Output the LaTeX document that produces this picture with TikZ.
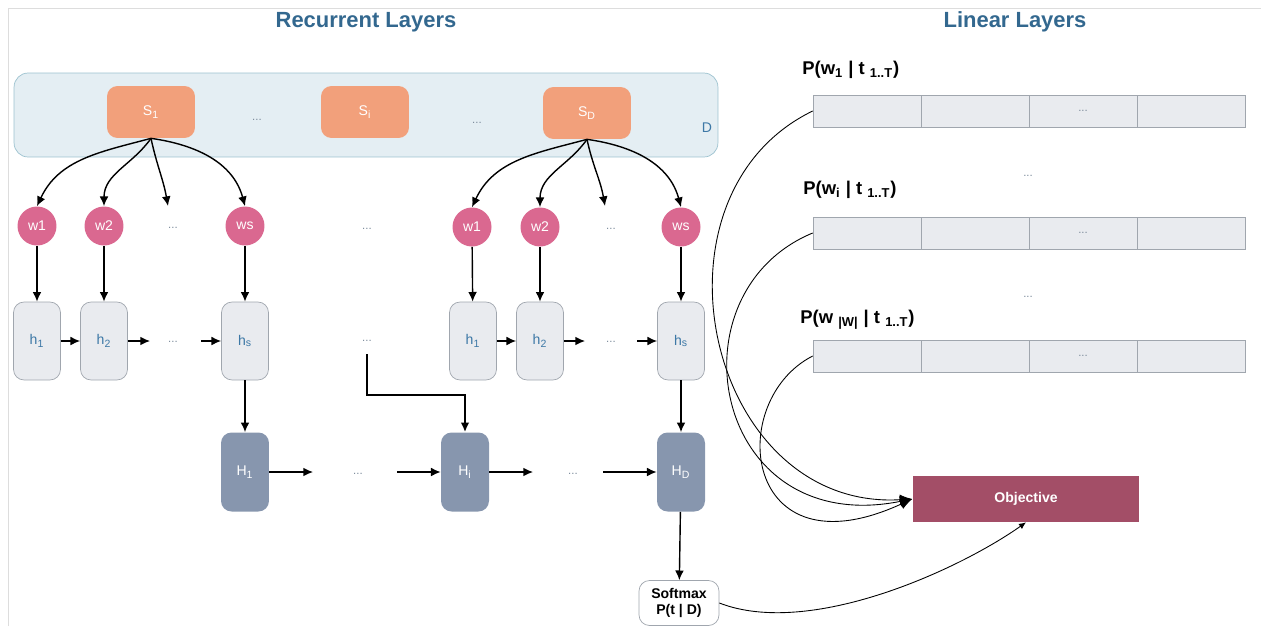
\documentclass[tikz,border=0pt]{standalone}
\usepackage{fontspec}
\setmainfont{Liberation Sans}
\usepackage{xcolor}
\definecolor{titleblue}{HTML}{33688F}
\definecolor{docfill}{HTML}{E4EEF3}
\definecolor{docline}{HTML}{9CC2CF}
\definecolor{sentfill}{HTML}{F2A07B}
\definecolor{wordfill}{HTML}{DA6890}
\definecolor{cellfill}{HTML}{E9EBEF}
\definecolor{cellline}{HTML}{A0A6AE}
\definecolor{hidfill}{HTML}{8796AE}
\definecolor{objfill}{HTML}{A34E67}
\definecolor{dotgray}{HTML}{7D8C9C}
\definecolor{hblue}{HTML}{3D78A6}
\definecolor{framegray}{HTML}{DDDDDD}
\usetikzlibrary{arrows.meta}
\usetikzlibrary{positioning}
\usetikzlibrary{calc}

\tikzset{
  title/.style={text=titleblue, inner sep=0pt, font=\fontsize{12.5}{15}\selectfont\bfseries},
  docbox/.style={rectangle, rounded corners=8pt, draw=docline, fill=docfill, minimum width=14.08cm, minimum height=1.68cm},
  doclabel/.style={text=hblue, inner sep=0pt, font=\fontsize{8}{9}\selectfont},
  sent/.style={rectangle, rounded corners=6pt, fill=sentfill, text=white, minimum width=1.76cm, minimum height=1.04cm, font=\fontsize{8}{9}\selectfont},
  word/.style={circle, fill=wordfill, text=white, minimum size=0.78cm, inner sep=0pt, font=\fontsize{8}{9}\selectfont},
  lowh/.style={rectangle, rounded corners=6pt, draw=cellline, fill=cellfill, text=hblue, minimum width=0.94cm, minimum height=1.56cm, font=\fontsize{8}{9}\selectfont},
  highh/.style={rectangle, rounded corners=6pt, fill=hidfill, text=white, minimum width=0.96cm, minimum height=1.58cm, font=\fontsize{8}{9}\selectfont},
  softbox/.style={rectangle, rounded corners=6pt, draw=cellline, fill=white, align=center, minimum width=1.6cm, minimum height=0.9cm, inner sep=1pt, font=\fontsize{8}{9.5}\selectfont\bfseries},
  objbox/.style={rectangle, fill=objfill, text=white, minimum width=4.54cm, minimum height=0.92cm, font=\fontsize{8}{9}\selectfont\bfseries},
  cell/.style={rectangle, draw=cellline, fill=cellfill, text=dotgray, minimum width=2.16cm, minimum height=0.64cm, inner sep=0pt, font=\fontsize{6.5}{7}\selectfont},
  plabel/.style={anchor=west, inner sep=0pt, font=\fontsize{10.5}{12}\selectfont\bfseries},
  dots/.style={text=dotgray, inner sep=1pt, font=\fontsize{6.5}{7}\selectfont},
  arr/.style={->, line width=0.8pt},
  bigarr/.style={->, line width=1.7pt},
  objarr/.style={->, line width=0.5pt, >={Latex[length=7pt,width=6pt]}}
}

\begin{document}
\begin{tikzpicture}[x=0.02cm, y=0.02cm, >={Latex[length=5.5pt,width=5pt]}]
\useasboundingbox (0,0) rectangle (1261,-626);

% frame
\draw[framegray] (8,-626) -- (8,-8) -- (1261,-8);

% titles
\node[title] (rectitle) at (366,-22) {Recurrent Layers};
\node[title] (lintitle) at (1015,-22) {Linear Layers};

% Document
\node[docbox] (doc) at (366,-115) {};
\node[doclabel] (dlabel) at (707,-128) {D};
\node[sent] (s1) at (151,-112) {S\textsubscript{1}};
\node[dots] (sdots1) at (257,-120) {...};
\node[sent] (si) at (365,-112) {S\textsubscript{i}};
\node[dots] (sdots2) at (477,-123) {...};
\node[sent] (sd) at (587,-113) {S\textsubscript{D}};

% Sentence 1
\node[word] (w1a) at (37,-226) {w1};
\node[word] (w2a) at (104,-226) {w2};
\node[dots] (wdotsa) at (173,-228) {...};
\node[word] (wsa) at (245,-226) {ws};
\coordinate (wenda) at (168,-206);

\draw[arr] (s1.south) to[out=195,in=65] (w1a.north);
\draw[arr] (s1.south) to[out=235,in=90] (w2a.north);
\draw[arr] (s1.south) to[out=-78,in=100] (wenda);
\draw[arr] (s1.south) to[out=-8,in=105] (wsa.north);

  % words to h
  \node[lowh] (h1a) at (37,-341) {h\textsubscript{1}};
  \node[lowh] (h2a) at (104,-341) {h\textsubscript{2}};
  \node[dots] (hdotsa) at (173,-342) {...};
  \node[lowh] (hsa) at (245,-341) {h\textsubscript{s}};
  \coordinate (hgoa) at (150,-341);
  \coordinate (hcomea) at (201,-341);
  \foreach \n in {1,2,s} \draw[arr] (w\n a) -- (h\n a);
  \draw[arr] (h1a) -- (h2a);
  \draw[arr] (h2a.east) -- (hgoa);
  \draw[arr] (hcomea) -- (hsa.west);

% Sentence i
\node[dots] (wdotsm) at (367,-229) {...};
\node[dots] (hdotsm) at (367,-341) {...};

% Sentence D
\node[word] (w1b) at (472,-227) {w1};
\node[word] (w2b) at (540,-227) {w2};
\node[dots] (wdotsb) at (611,-229) {...};
\node[word] (wsb) at (681,-227) {ws};
\coordinate (wendb) at (605,-206);

\draw[arr] (sd.south) to[out=195,in=65] (w1b.north);
\draw[arr] (sd.south) to[out=235,in=90] (w2b.north);
\draw[arr] (sd.south) to[out=-78,in=100] (wendb);
\draw[arr] (sd.south) to[out=-8,in=105] (wsb.north);

  % words to h
  \node[lowh] (h1b) at (473,-341) {h\textsubscript{1}};
  \node[lowh] (h2b) at (540,-341) {h\textsubscript{2}};
  \node[dots] (hdotsb) at (611,-342) {...};
  \node[lowh] (hsb) at (681,-341) {h\textsubscript{s}};
  \coordinate (hgob) at (585,-341);
  \coordinate (hcomeb) at (637,-341);
  \foreach \n in {1,2,s} \draw[arr] (w\n b) -- (h\n b);
  \draw[arr] (h1b) -- (h2b);
  \draw[arr] (h2b.east) -- (hgob);
  \draw[arr] (hcomeb) -- (hsb.west);

% Document layer
\node[highh] (H1) at (245,-472) {H\textsubscript{1}};
\node[dots] (Hdots1) at (358,-474) {...};
\node[highh] (Hi) at (465,-472) {H\textsubscript{i}};
\node[dots] (Hdots2) at (573,-474) {...};
\node[highh] (HD) at (681,-472) {H\textsubscript{D}};
\coordinate (Hgo1) at (313,-472);
\coordinate (Hcome1) at (397,-472);
\coordinate (Hgo2) at (533,-472);
\coordinate (Hcome2) at (603,-472);

\draw[arr] (hsa) -- (H1);
\draw[arr] (hsb) -- (HD);
\draw[bigarr] ([yshift=-0.26cm]hdotsm.center) -- ++(0,-41) -| (Hi.north);
\draw[arr] (H1.east) -- (Hgo1);
\draw[arr] (Hcome1) -- (Hi.west);
\draw[arr] (Hi.east) -- (Hgo2);
\draw[arr] (Hcome2) -- (HD.west);

% Softmax
\node[softbox] (soft) at (679,-603) {Softmax\\P(t | D)};
\draw[arr] (HD) -- (soft);

% Linear layers
\foreach \r/\y in {1/111,2/233,3/356}
  \foreach \c in {1,...,4}
    \node[cell] (r\r c\c) at ({759+108*\c},-\y) {\ifnum\c=3 ...\fi};

\node[plabel] (p1) at (802,-70) {P(w\textsubscript{1} | t \textsubscript{1..T})};
\node[plabel] (pi) at (803,-190) {P(w\textsubscript{i} | t \textsubscript{1..T})};
\node[plabel] (pw) at (800,-320) {P(w \textsubscript{|W|} | t \textsubscript{1..T})};
\node[dots] (rdots1) at (1028,-176) {...};
\node[dots] (rdots2) at (1028,-297) {...};

% Objective
\node[objbox] (obj) at (1026,-499) {Objective};

\draw[objarr] (r1c1.west) .. controls +(-175,-85) and +(-205,-12) .. (obj.west);
\draw[objarr] (r2c1.west) .. controls +(-145,-60) and +(-200,-40) .. (obj.west);
\draw[objarr] (r3c1.west) .. controls +(-88,-45) and +(-170,-78) .. (obj.west);
\draw[objarr, >={Latex[length=4pt,width=3.5pt]}] (soft.east) .. controls +(90,-35) and +(-68,-48) .. (obj.south);

\end{tikzpicture}
\end{document}
